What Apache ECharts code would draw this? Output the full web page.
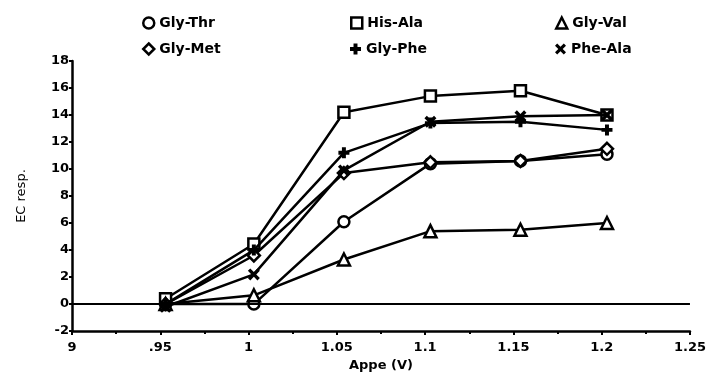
<!DOCTYPE html>
<html>
<head>
<meta charset="utf-8">
<script src="https://cdn.jsdelivr.net/npm/echarts@6/dist/echarts.min.js"></script>
<style>
  html, body { margin: 0; padding: 0; background: #fff; }
  #chart { width: 709px; height: 377px; }
</style>
</head>
<body>
<div id="chart"></div>
<script>
// Applied potential (V) at which each dipeptide was measured
const voltages = [0.953, 1.003, 1.054, 1.103, 1.154, 1.203];

// Electrochemical response for each dipeptide
const glyThr = [0, 0, 6.1, 10.4, 10.6, 11.1];
const hisAla = [0.4, 4.45, 14.2, 15.4, 15.8, 14.0];
const glyVal = [0, 0.65, 3.3, 5.4, 5.5, 6.0];
const glyMet = [0, 3.6, 9.7, 10.5, 10.6, 11.5];
const glyPhe = [0, 4.0, 11.2, 13.4, 13.5, 12.9];
const pheAla = [-0.2, 2.2, 9.9, 13.5, 13.9, 14.0];

// Axis tick labels
const xTickLabels = ['9', '.95', '1', '1.05', '1.1', '1.15', '1.2', '1.25'];
const yTickLabels = ['-2', '0', '2', '4', '6', '8', '10', '12', '14', '16', '18'];

const FONT = 'DejaVu Sans';
const PLUS = 'path://M3.2,0 H6.8 V3.2 H10 V6.8 H6.8 V10 H3.2 V6.8 H0 V3.2 H3.2 Z';
const CROSS = 'path://M0,2 L2,0 L5,3 L8,0 L10,2 L7,5 L10,8 L8,10 L5,7 L2,10 L0,8 L3,5 Z';

const pairs = ys => voltages.map((v, i) => [v, ys[i]]);

const seriesDefs = [
  { name: 'Gly-Thr', data: glyThr, symbol: 'circle', size: 11, filled: false },
  { name: 'His-Ala', data: hisAla, symbol: 'rect', size: 11, filled: false },
  { name: 'Gly-Val', data: glyVal, symbol: 'triangle', size: 12, filled: false },
  { name: 'Gly-Met', data: glyMet, symbol: 'diamond', size: 12, filled: false },
  { name: 'Gly-Phe', data: glyPhe, symbol: PLUS, size: 11, filled: true },
  { name: 'Phe-Ala', data: pheAla, symbol: CROSS, size: 12, filled: true }
];

const series = seriesDefs.map((d, idx) => {
  const s = {
    name: d.name,
    type: 'line',
    data: pairs(d.data),
    symbol: d.symbol,
    symbolSize: d.size,
    showSymbol: true,
    lineStyle: { color: '#000', width: 2.5 },
    itemStyle: {
      color: d.filled ? '#000' : '#fff',
      borderColor: '#000',
      borderWidth: d.filled ? 0 : 2.5
    },
    emphasis: { disabled: true },
    z: 2 + idx
  };
  if (idx === 0) {
    // horizontal reference line at zero response
    s.markLine = {
      silent: true,
      symbol: 'none',
      label: { show: false },
      lineStyle: { color: '#000', width: 2, type: 'solid' },
      data: [{ yAxis: 0 }]
    };
  }
  return s;
});

// Legend: two rows of three entries
const legendCols = [142, 350, 555];
const legendRows = [16, 42];
const legends = seriesDefs.map((d, i) => ({
  left: legendCols[i % 3],
  top: legendRows[Math.floor(i / 3)],
  padding: 0,
  itemWidth: 11,
  itemHeight: 11,
  selectedMode: false,
  textStyle: { fontFamily: FONT, fontWeight: 'bold', fontSize: 14, color: '#000' },
  itemStyle: {
    color: d.filled ? '#000' : '#fff',
    borderColor: '#000',
    borderWidth: d.filled ? 0 : 2.5
  },
  data: [{ name: d.name, icon: d.symbol }]
}));

const chart = echarts.init(document.getElementById('chart'), null, { renderer: 'canvas' });
chart.setOption({
  animation: false,
  backgroundColor: '#fff',
  legend: legends,
  grid: { left: 72, right: 17, top: 61, bottom: 42, containLabel: false },
  xAxis: {
    type: 'value',
    min: 0.9,
    max: 1.25,
    interval: 0.05,
    name: 'Appe (V)',
    nameLocation: 'middle',
    nameGap: 27,
    nameTextStyle: { fontFamily: FONT, fontWeight: 'bold', fontSize: 13, color: '#000' },
    axisLine: { show: true, onZero: false, lineStyle: { color: '#000', width: 2.5 } },
    axisTick: { show: true, inside: false, length: 4, lineStyle: { color: '#000', width: 2 } },
    minorTick: { show: true, splitNumber: 2, length: 3, lineStyle: { color: '#000', width: 2 } },
    splitLine: { show: false },
    axisLabel: {
      margin: 10,
      fontFamily: FONT, fontWeight: 'bold', fontSize: 13, color: '#000',
      formatter: v => xTickLabels[Math.round((v - 0.9) / 0.05)]
    }
  },
  yAxis: {
    type: 'value',
    min: -2,
    max: 18,
    interval: 2,
    name: 'EC resp.',
    nameLocation: 'middle',
    nameRotate: 90,
    nameGap: 44,
    nameTextStyle: { fontFamily: FONT, fontSize: 13, color: '#000' },
    axisLine: { show: true, onZero: false, lineStyle: { color: '#000', width: 2.5 } },
    axisTick: { show: true, length: 3, lineStyle: { color: '#000', width: 2 } },
    splitLine: { show: false },
    axisLabel: {
      margin: 3,
      fontFamily: FONT, fontWeight: 'bold', fontSize: 13, color: '#000',
      formatter: v => yTickLabels[Math.round((v + 2) / 2)]
    }
  },
  series: series
});
</script>
</body>
</html>
